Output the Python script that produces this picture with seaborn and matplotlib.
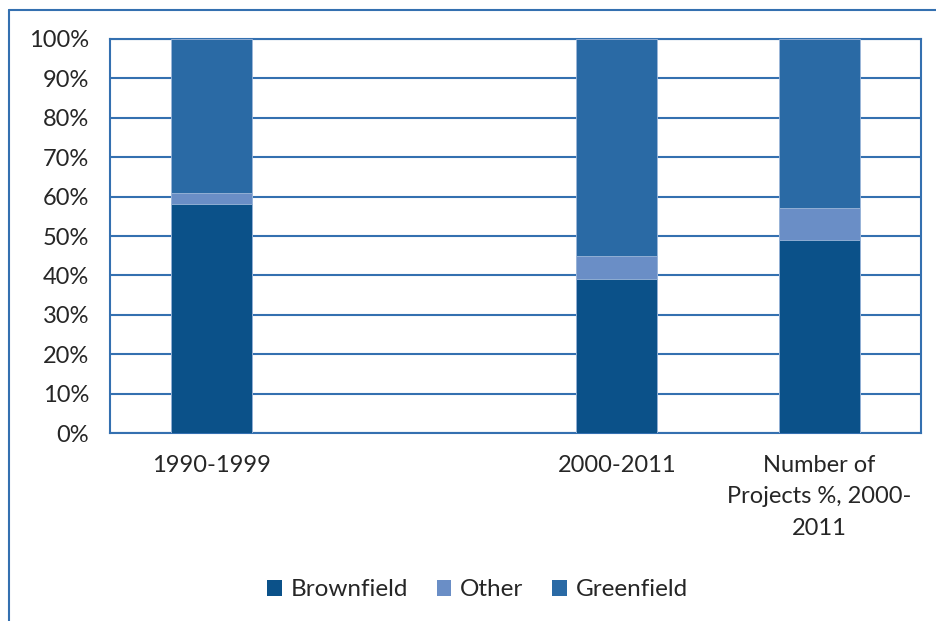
import matplotlib
matplotlib.use("Agg")
from matplotlib import pyplot as plt
from matplotlib.lines import Line2D
from matplotlib.patches import Patch
import seaborn as sns
import pandas as pd
import numpy as np

# chart data (percent shares)
categories = ["1990-1999", "", "2000-2011", "Number of\nProjects %, 2000-\n2011"]
brownfield = [58, np.nan, 39, 49]
other = [3, np.nan, 6, 8]
greenfield = [39, np.nan, 55, 43]
series_names = ["Brownfield", "Other", "Greenfield"]
series_colors = ["#0b5189", "#6a8ec6", "#2a6aa5"]
yticks = list(range(0, 101, 10))

border_blue = "#3470b0"

sns.set_theme(style="white")
plt.rcParams['font.family'] = ['Lato', 'DejaVu Sans']

df = pd.DataFrame({
    "Category": categories,
    "Brownfield": brownfield,
    "Other": other,
    "Greenfield": greenfield,
})
# cumulative tops so bars can be overlaid (tallest first)
df["top_other"] = df["Brownfield"] + df["Other"]
df["top_green"] = df["top_other"] + df["Greenfield"]
plot_df = df.fillna(0)

fig = plt.figure(figsize=(9.36, 6.21), dpi=100)
ax = fig.add_axes([0.1175, 0.3027, 0.8665, 0.6345])

layers = [("top_green", series_colors[2]),
          ("top_other", series_colors[1]),
          ("Brownfield", series_colors[0])]
for col, color in layers:
    sns.barplot(data=plot_df, x="Category", y=col, order=categories,
                color=color, width=0.4, saturation=1,
                edgecolor="#9db7da", linewidth=0.6, ax=ax, zorder=3)

ax.set_ylim(0, 100)
ax.set_xlim(-0.5, len(categories) - 0.5)
ax.set_yticks(yticks)
ax.set_yticklabels([f"{t}%" for t in yticks])
ax.set_xlabel("")
ax.set_ylabel("")
ax.yaxis.grid(True, color=border_blue, linewidth=1.5, zorder=0)
ax.set_axisbelow(True)
for s in ax.spines.values():
    s.set_visible(True)
    s.set_color(border_blue)
    s.set_linewidth(1.5)
ax.tick_params(axis="both", length=0, labelsize=17, colors="#262626")
ax.tick_params(axis="y", pad=15)
ax.tick_params(axis="x", pad=16)
for lab in ax.get_xticklabels():
    lab.set_multialignment("center")
    lab.set_linespacing(1.6)

handles = [Patch(facecolor=c, edgecolor="none") for c in series_colors]
fig.legend(handles, series_names, loc="center", bbox_to_anchor=(0.51, 0.05),
           ncol=3, frameon=False, fontsize=17.5, handlelength=0.6, handleheight=0.6,
           handletextpad=0.35, columnspacing=1.2, labelcolor="#262626")

# outer chart frame (only top and left fall inside the picture)
fig.add_artist(Line2D([0.0096, 1.0], [0.984, 0.984], color=border_blue, linewidth=1.5,
                      transform=fig.transFigure))
fig.add_artist(Line2D([0.0096, 0.0096], [0.0, 0.984], color=border_blue, linewidth=1.5,
                      transform=fig.transFigure))

fig.savefig("out.png", dpi=100)
